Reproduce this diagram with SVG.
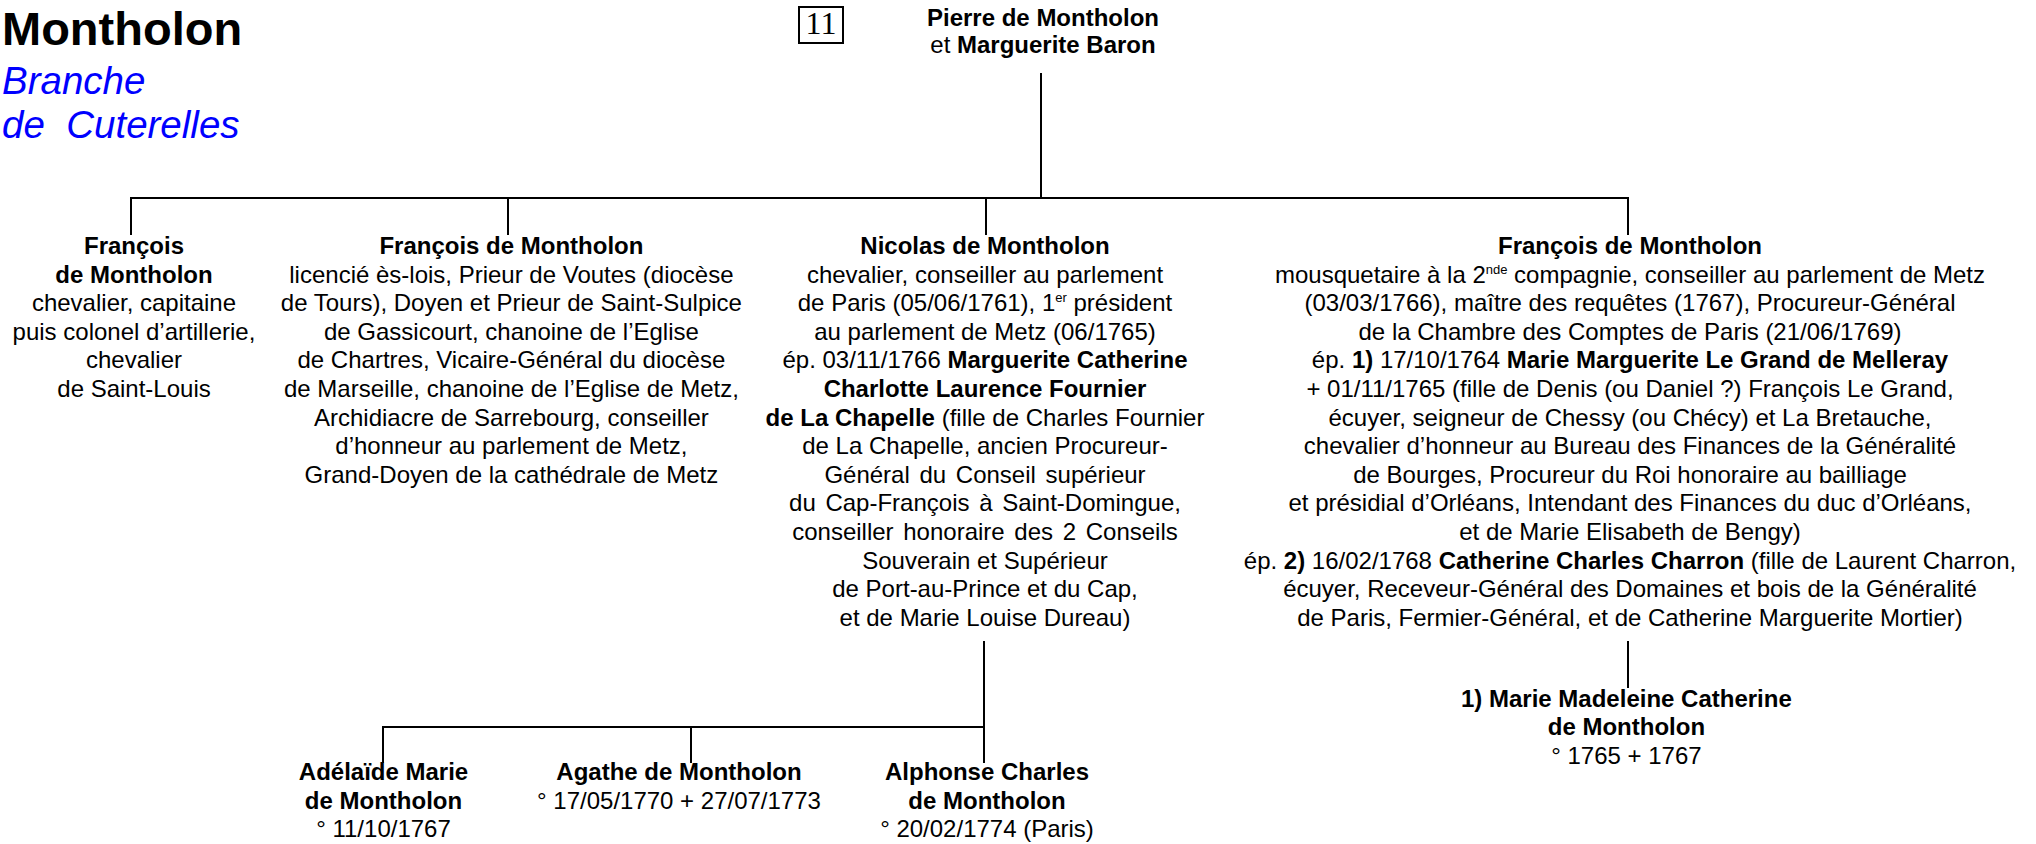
<svg xmlns="http://www.w3.org/2000/svg" width="2036" height="844" viewBox="0 0 2036 844">
<style>
text{font-family:"Liberation Sans",Arial,Helvetica,sans-serif;font-size:24px;fill:#000;text-anchor:middle}
.b{font-weight:bold}
.sup{font-size:13px}
.title{font-size:47px;font-weight:bold;text-anchor:start}
.branch{font-size:38.5px;font-style:italic;fill:#0000ff;text-anchor:start}
.num{font-family:"Liberation Serif","Times New Roman",serif;font-size:32px}
#connectors line{stroke:#000;stroke-width:2}
</style>
<rect width="2036" height="844" fill="#fff"/>
<g id="title">
<text class="title" x="2" y="45">Montholon</text>
<text class="branch" x="2" y="94">Branche</text>
<text class="branch" x="2" y="138" xml:space="preserve">de  Cuterelles</text>
</g>
<g id="num">
<rect x="799" y="7" width="44" height="36" fill="none" stroke="#000" stroke-width="2"/>
<text class="num" x="821" y="34">11</text>
</g>
<g id="connectors">
<line x1="1041" y1="73" x2="1041" y2="198"/>
<line x1="130" y1="198" x2="1629" y2="198"/>
<line x1="131" y1="197" x2="131" y2="235"/>
<line x1="508" y1="197" x2="508" y2="235"/>
<line x1="986" y1="197" x2="986" y2="235"/>
<line x1="1628" y1="197" x2="1628" y2="235"/>
<line x1="984" y1="641" x2="984" y2="763"/>
<line x1="382" y1="727" x2="985" y2="727"/>
<line x1="383" y1="726" x2="383" y2="763"/>
<line x1="691" y1="726" x2="691" y2="763"/>
<line x1="1628" y1="641" x2="1628" y2="688"/>
</g>
<g id="pierre">
<text class="b" x="1043" y="26">Pierre de Montholon</text>
<text x="1043" y="53">et <tspan class="b">Marguerite Baron</tspan></text>
</g>
<g id="francois1">
<text class="b" x="134" y="254">François</text>
<text class="b" x="134" y="282.6">de Montholon</text>
<text x="134" y="311.2">chevalier, capitaine</text>
<text x="134" y="339.8">puis colonel d’artillerie,</text>
<text x="134" y="368.4">chevalier</text>
<text x="134" y="397">de Saint-Louis</text>
</g>
<g id="francois2">
<text class="b" x="511.4" y="254">François de Montholon</text>
<text x="511.4" y="282.6">licencié ès-lois, Prieur de Voutes (diocèse</text>
<text x="511.4" y="311.2">de Tours), Doyen et Prieur de Saint-Sulpice</text>
<text x="511.4" y="339.8">de Gassicourt, chanoine de l’Eglise</text>
<text x="511.4" y="368.4">de Chartres, Vicaire-Général du diocèse</text>
<text x="511.4" y="397">de Marseille, chanoine de l’Eglise de Metz,</text>
<text x="511.4" y="425.6">Archidiacre de Sarrebourg, conseiller</text>
<text x="511.4" y="454.2">d’honneur au parlement de Metz,</text>
<text x="511.4" y="482.8">Grand-Doyen de la cathédrale de Metz</text>
</g>
<g id="nicolas">
<text class="b" x="985" y="254">Nicolas de Montholon</text>
<text x="985" y="282.6">chevalier, conseiller au parlement</text>
<text x="985" y="311.2">de Paris (05/06/1761), 1<tspan class="sup" dy="-9">er</tspan><tspan dy="9"> président</tspan></text>
<text x="985" y="339.8">au parlement de Metz (06/1765)</text>
<text x="985" y="368.4">ép. 03/11/1766 <tspan class="b">Marguerite Catherine</tspan></text>
<text class="b" x="985" y="397">Charlotte Laurence Fournier</text>
<text x="985" y="425.6"><tspan class="b">de La Chapelle</tspan> (fille de Charles Fournier</text>
<text x="985" y="454.2">de La Chapelle, ancien Procureur-</text>
<text x="985" y="482.8" word-spacing="3">Général du Conseil supérieur</text>
<text x="985" y="511.4" word-spacing="3">du Cap-François à Saint-Domingue,</text>
<text x="985" y="540" word-spacing="3">conseiller honoraire des 2 Conseils</text>
<text x="985" y="568.6">Souverain et Supérieur</text>
<text x="985" y="597.2">de Port-au-Prince et du Cap,</text>
<text x="985" y="625.8">et de Marie Louise Dureau)</text>
</g>
<g id="francois4">
<text class="b" x="1630" y="254">François de Montholon</text>
<text x="1630" y="282.6">mousquetaire à la 2<tspan class="sup" dy="-9">nde</tspan><tspan dy="9"> compagnie, conseiller au parlement de Metz</tspan></text>
<text x="1630" y="311.2">(03/03/1766), maître des requêtes (1767), Procureur-Général</text>
<text x="1630" y="339.8">de la Chambre des Comptes de Paris (21/06/1769)</text>
<text x="1630" y="368.4">ép. <tspan class="b">1)</tspan> 17/10/1764 <tspan class="b">Marie Marguerite Le Grand de Melleray</tspan></text>
<text x="1630" y="397">+ 01/11/1765 (fille de Denis (ou Daniel ?) François Le Grand,</text>
<text x="1630" y="425.6">écuyer, seigneur de Chessy (ou Chécy) et La Bretauche,</text>
<text x="1630" y="454.2">chevalier d’honneur au Bureau des Finances de la Généralité</text>
<text x="1630" y="482.8">de Bourges, Procureur du Roi honoraire au bailliage</text>
<text x="1630" y="511.4">et présidial d’Orléans, Intendant des Finances du duc d’Orléans,</text>
<text x="1630" y="540">et de Marie Elisabeth de Bengy)</text>
<text x="1630" y="568.6">ép. <tspan class="b">2)</tspan> 16/02/1768 <tspan class="b">Catherine Charles Charron</tspan> (fille de Laurent Charron,</text>
<text x="1630" y="597.2">écuyer, Receveur-Général des Domaines et bois de la Généralité</text>
<text x="1630" y="625.8">de Paris, Fermier-Général, et de Catherine Marguerite Mortier)</text>
</g>
<g id="marie-madeleine">
<text class="b" x="1626.4" y="706.5">1) Marie Madeleine Catherine</text>
<text class="b" x="1626.4" y="735.1">de Montholon</text>
<text x="1626.4" y="763.7">° 1765 + 1767</text>
</g>
<g id="adelaide">
<text class="b" x="383.5" y="780">Adélaïde Marie</text>
<text class="b" x="383.5" y="808.6">de Montholon</text>
<text x="383.5" y="837.2">° 11/10/1767</text>
</g>
<g id="agathe">
<text class="b" x="679" y="780">Agathe de Montholon</text>
<text x="679" y="808.6">° 17/05/1770 + 27/07/1773</text>
</g>
<g id="alphonse">
<text class="b" x="987" y="780">Alphonse Charles</text>
<text class="b" x="987" y="808.6">de Montholon</text>
<text x="987" y="837.2" xml:space="preserve">° 20/02/1774 (Paris)</text>
</g>
</svg>
